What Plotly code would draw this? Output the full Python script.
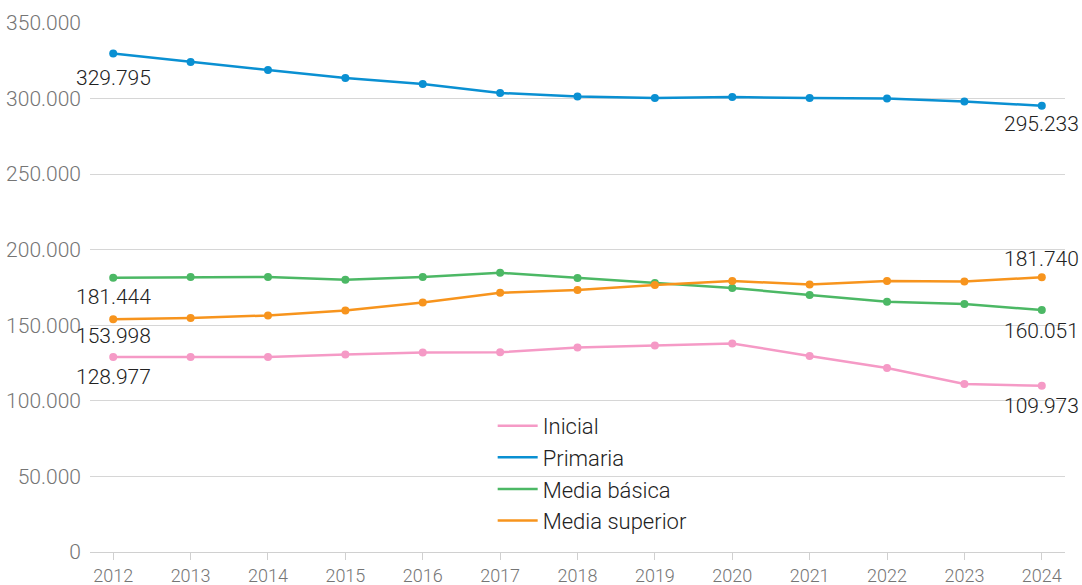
import plotly.graph_objects as go

years = list(range(2012, 2025))

inicial = [128977, 129000, 129000, 130700, 132000, 132100, 135300, 136600, 138000, 129700, 121700, 111200, 109973]
primaria = [329795, 324200, 318900, 313600, 309600, 303700, 301400, 300400, 301000, 300400, 300100, 298100, 295233]
media_basica = [181444, 181900, 182000, 180100, 182000, 184700, 181300, 178000, 174700, 170000, 165500, 164100, 160051]
media_superior = [153998, 154900, 156500, 159800, 165100, 171500, 173400, 176700, 179300, 177000, 179300, 179000, 181740]

series = [
    ("Inicial", inicial, "#f59ac6", -20, -20),
    ("Primaria", primaria, "#0a90d2", -24, -18),
    ("Media básica", media_basica, "#4cb865", -19, -21),
    ("Media superior", media_superior, "#f7941d", -17, 18),
]


def fmt(v):
    return f"{v:,}".replace(",", ".")


fig = go.Figure()

# data lines with markers (no legend entry)
for name, vals, color, _, _ in series:
    fig.add_trace(go.Scatter(x=years, y=vals, mode="lines+markers", name=name,
                             line=dict(color=color, width=2.5),
                             marker=dict(color=color, size=8),
                             showlegend=False, hoverinfo="x+y"))

# legend-only line entries
for name, vals, color, _, _ in series:
    fig.add_trace(go.Scatter(x=[None], y=[None], mode="lines", name=name,
                             line=dict(color=color, width=2.5)))

# first / last value labels
for name, vals, color, shift_first, shift_last in series:
    fig.add_annotation(x=years[0], y=vals[0], text=fmt(vals[0]), showarrow=False,
                       yshift=shift_first, font=dict(size=21, color="#222222"))
    fig.add_annotation(x=years[-1], y=vals[-1], text=fmt(vals[-1]), showarrow=False,
                       yshift=shift_last, font=dict(size=21, color="#222222"))

fig.update_layout(
    width=1082, height=585,
    margin=dict(l=90, r=17, t=23, b=33, autoexpand=False),
    paper_bgcolor="white", plot_bgcolor="white",
    separators=",.",
    font=dict(family="Roboto", size=18, color="#222222", weight=300),
    legend=dict(x=0.413, y=0.278, xanchor="left", yanchor="top",
                bgcolor="rgba(0,0,0,0)", font=dict(size=22, color="#222222"),
                tracegroupgap=0, itemwidth=40),
    xaxis=dict(range=[2011.7, 2024.3], tickmode="array", tickvals=years,
               showgrid=False, showline=True, linecolor="#d0d0d0", linewidth=1,
               ticks="outside", ticklen=7, tickcolor="#d0d0d0", automargin=False,
               tickfont=dict(size=18, color="#757575"), zeroline=False),
    yaxis=dict(range=[0, 350000], tickmode="array",
               tickvals=[0, 50000, 100000, 150000, 200000, 250000, 300000, 350000],
               tickformat=",d", showgrid=True, gridcolor="#d6d6d6", gridwidth=1,
               zeroline=False, ticklabelstandoff=8, automargin=False,
               tickfont=dict(size=21, color="#757575")),
)

# page body has a default 8px margin; remove it so the figure sits at 0,0
fig.write_html("out.html", config={"displayModeBar": False},
               post_script="document.body.style.margin='0';")
